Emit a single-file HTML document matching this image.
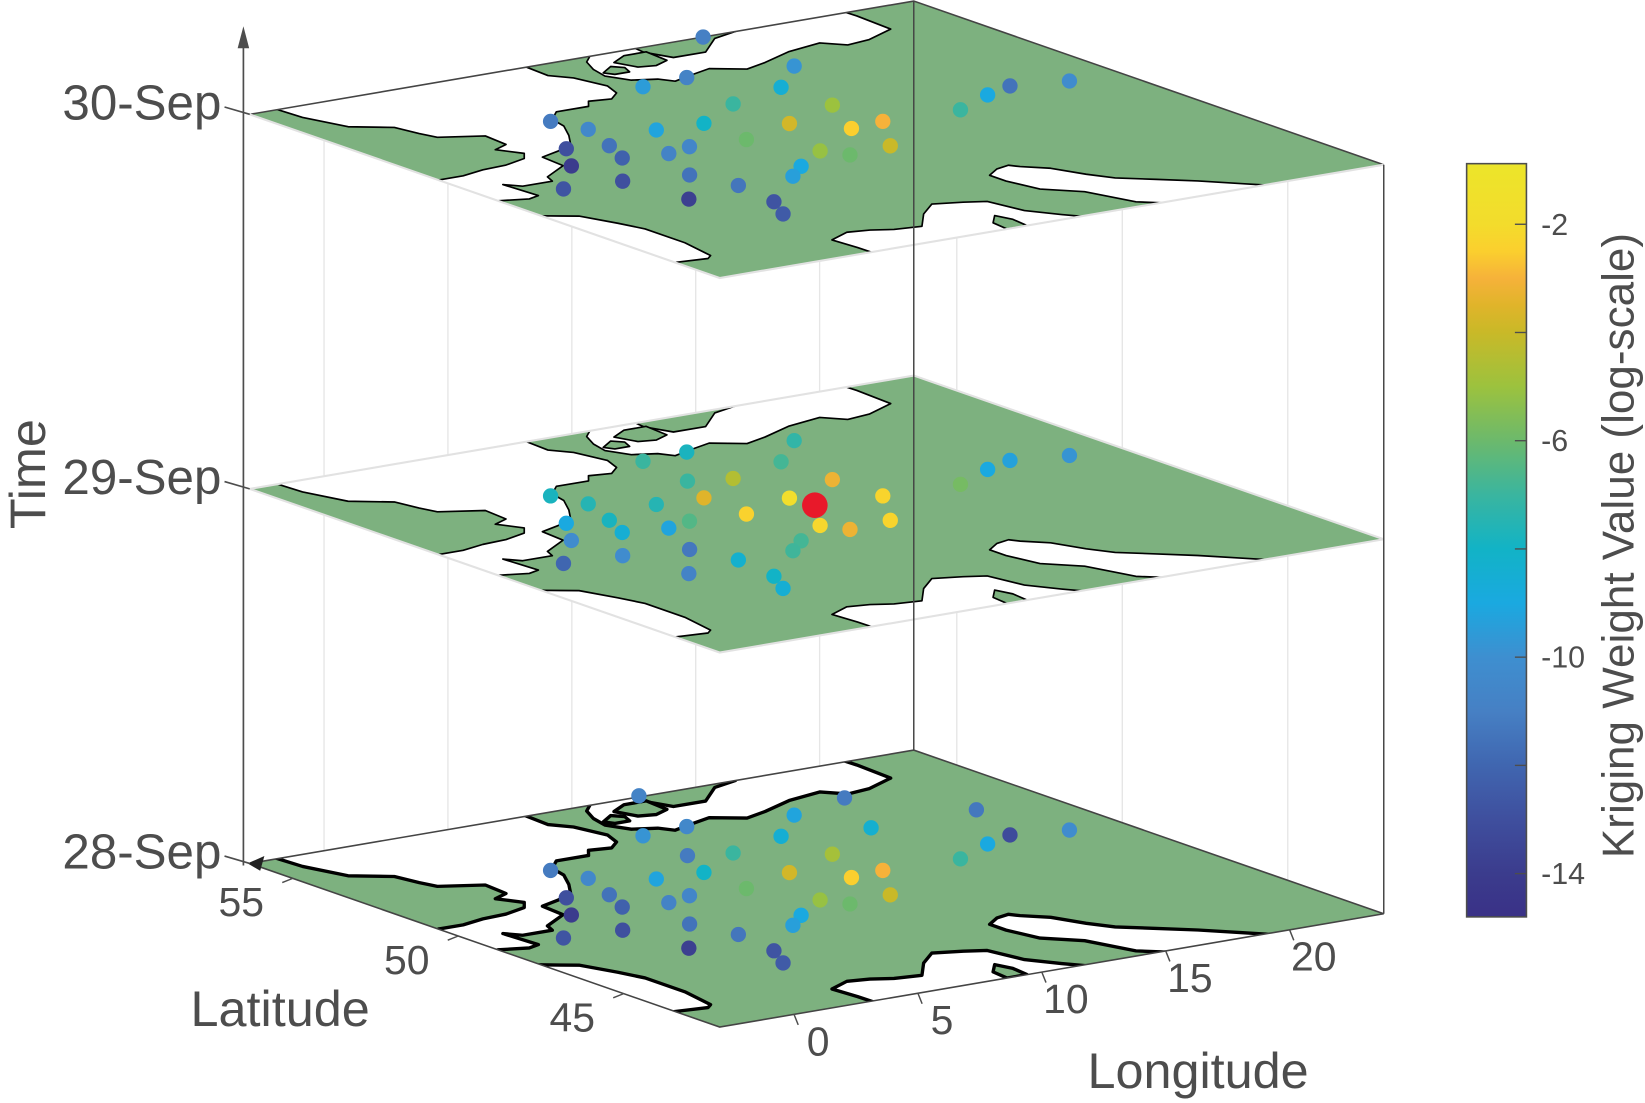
<!DOCTYPE html>
<html><head><meta charset="utf-8"><style>
html,body{margin:0;padding:0;background:#fff}
svg{display:block;font-family:"Liberation Sans",Arial,sans-serif}
</style></head><body>
<svg id="chart" width="1645" height="1103" viewBox="0 0 1568 1051.4" xmlns="http://www.w3.org/2000/svg">
<rect x="0" y="0" width="1568" height="1052" fill="#fff"/>
<defs>
<linearGradient id="cbgrad" x1="0" y1="1" x2="0" y2="0"></linearGradient>
</defs>
<g id="walls"></g>
<g id="planes"></g>
<g id="frame"></g>
<g id="labels"></g>
<g id="colorbar"></g>
</svg>
<script>
// ---- data ----
const lonRange = [-3, 23.8];
const latRange = [42.1, 56.3];
const days = [28, 29, 30];
const dayLabels = ['28-Sep', '29-Sep', '30-Sep'];
const lonTicks = [0, 5, 10, 15, 20];
const latTicks = [45, 50, 55];
const cbTicks = [-2, -4, -6, -8, -10, -12, -14];
const cbTickLabels = ['-2', '', '-6', '', '-10', '', '-14'];
const cbRange = [-14.8, -0.88];
const stationLon = [15.3,15.5,9.8,11.7,13.5,10.9,13.5,4.6,5.0,6.8,8.6,10.9,12.2,13.6,8.5,11.9,2.9,4.3,3.7,5.3,6.4,9.6,10.1,1.7,7.9,6.9,4.2,1.9,4.7,-0.3,2.3,4.4,3.7,16.6,18.5,19.8,21.8,12.8,18.2,16.6,20.85,9.46];
const stationLat = [56.3,53.7,54.0,54.1,52.6,52.1,51.05,52.9,52.06,51.35,51.26,50.4,49.5,49.6,49.9,48.1,51.15,50.9,50.06,49.85,50.05,48.5,47.97,50.1,47.8,47.3,48.4,48.7,47.3,48.84,47.0,46.0,45.2,49.5,50.1,50.4,50.1,56.37,54.2,52.2,52.2,52.4];
const values28 = [null,-9.2,-9.8,-10.5,-8.5,-7,-4.8,-11.2,-10.5,-9.2,-8,-3.8,-2.5,-3,-6,-4,-13,-11.5,-12.2,-10.8,-10.6,-5.1,-6,-14,-9,-9.4,-11.5,-13,-11.4,-12.8,-13.8,-12.8,-12.5,-7,-9,-13.2,-10.2,-10.8,-11.2,-8.4,-11.3,-11.2];
const values29 = [null,-7.2,-7,-7.8,-6.8,-4.5,-3.2,-7.8,-7.5,-7.5,-3.5,-1.8,null,-2.3,-2.4,-2.3,-9,-7.8,-8.5,-9.2,-6.5,-2.2,-3.2,-10.2,-6.8,-6.9,-11.3,-10.2,-8.3,-12,-10.8,-8,-8.5,-5.8,-9,-9.3,-9.8,null,null,null,null,-7];
const values30 = [-11,-9.8,-9.5,-10.8,-8.5,-7,-5,-11.2,-10.5,-9.2,-8,-3.8,-2.5,-3,-6,-4,-13,-11.5,-12.2,-10.8,-10.6,-5.1,-6,-14,-9,-9.4,-11.5,-13,-11.4,-12.8,-13.8,-12.8,-12.5,-7,-9,-11.5,-10.2,null,null,null,null,null];
const targetLon = [11.03];
const targetLat = [49.73];
const targetDay = [29];
// coastline (sea areas, lon/lat)
const seaNorth = [[-2,57.5],[-1.8,55.6],[-1.3,54.6],[-0.1,54.1],[0.1,53.5],[0.3,53.1],[1.7,52.7],[1.6,52.0],[0.9,51.8],[1.4,51.3],[1.0,51.0],[0.0,50.8],[-1.0,50.75],[-2.0,50.6],[-3.0,50.6],[-3.5,50.3],[-4.5,50.2],[-4.5,48.7],[-3,48.8],[-2,48.6],[-1.5,48.7],[-1.6,49.7],[-1.2,49.4],[0,49.4],[0.2,49.7],[1.5,50.2],[1.6,50.9],[2.5,51.1],[3.4,51.4],[4.0,51.9],[4.6,52.5],[4.8,53.0],[5.5,53.4],[6.8,53.4],[7.2,53.7],[8.0,53.6],[8.6,53.9],[8.9,54.4],[8.6,55.2],[8.1,55.6],[8.2,56.6],[8.5,57.5]];
const seaBiscay = [[-4.5,48.3],[-4.2,47.8],[-3,47.5],[-2.5,47.3],[-2.0,47.1],[-1.5,46.3],[-1.2,45.7],[-1.2,44.5],[-1.5,43.5],[-1.8,43.35],[-3,43.45],[-4.5,43.4]];
const seaBaltic = [[10.2,57.5],[10.5,56.5],[10.9,56.4],[10.2,56],[9.8,55.5],[9.6,55],[10,54.5],[10.8,54.3],[11.1,54],[12,54.2],[13,54.4],[14,54],[15,54.2],[16.5,54.6],[18,54.8],[18.6,54.4],[19.6,54.5],[21,54.9],[21.1,56],[21,57.5]];
const seaMed = [[3.2,40],[3.1,42.5],[3.0,43.2],[4,43.5],[4.8,43.4],[5.5,43.2],[6.5,43.1],[7.5,43.8],[8.5,44.3],[9.5,44.1],[10.2,43.9],[10.5,43.0],[11.2,42.4],[12,41.8],[12.5,40]];
const seaAdriatic = [[12.3,45.4],[12.3,44.9],[12.6,44.1],[13.6,43.5],[14.2,42.4],[15,42],[16,41.9],[16.5,40],[18,40],[19.5,41.8],[18.5,42.4],[17.5,43],[16.5,43.5],[15.5,44],[15,44.5],[14.5,45.2],[13.8,45.6],[13.6,45.8],[13,45.7]];
const landSweden = [[12.5,57.5],[12.6,56.4],[12.5,56],[12.9,55.4],[14.2,55.4],[15.5,56.1],[16.6,56.3],[16.6,57.5]];
const landZealand = [[10.9,55.7],[11.7,56],[12.6,56],[12.5,55.3],[11.8,55.1],[11.2,55.2]];
const landFunen = [[9.8,55.2],[10.5,55.5],[10.8,55.3],[10.6,55],[10,55]];
const landCorsica = [[8.6,42.1],[8.7,42.6],[9.3,43.0],[9.5,42.6],[9.4,42.1]];

// ---- axes ----
const NS = 'http://www.w3.org/2000/svg';
const B0 = [686, 979], EX = [633, -108], EY = [-448, -156], DZ = 357;
function proj(lon, lat, day) {
  const a = (lon - lonRange[0]) / (lonRange[1] - lonRange[0]);
  const b = (lat - latRange[0]) / (latRange[1] - latRange[0]);
  return [B0[0] + a * EX[0] + b * EY[0], B0[1] - (day - days[0]) * DZ + a * EX[1] + b * EY[1]];
}
function valToT(v) { return (v - cbRange[0]) / (cbRange[1] - cbRange[0]); }
const cmapV = [-14.8,-14,-13,-12,-11,-10,-9,-8,-7,-6,-5,-4,-3.5,-3,-2.5,-2,-0.88];
const cmapC = ['#3a3187','#3b3c8d','#3f4f9e','#4066b0','#4680c4','#3e8fd0','#1aa9e0','#12b3c6','#3ab59f','#6cb96c','#9cc23e','#c9b928','#e0b42a','#f6b23a','#fbcf2e','#f3dc2c','#ece52a'];
function hex(c){return [parseInt(c.slice(1,3),16),parseInt(c.slice(3,5),16),parseInt(c.slice(5,7),16)];}
function color(v) {
  if (v <= cmapV[0]) return cmapC[0];
  for (let i = 1; i < cmapV.length; i++) {
    if (v <= cmapV[i]) {
      const t = (v - cmapV[i-1]) / (cmapV[i] - cmapV[i-1]);
      const a = hex(cmapC[i-1]), b = hex(cmapC[i]);
      return 'rgb(' + a.map((x, k) => Math.round(x + (b[k] - x) * t)).join(',') + ')';
    }
  }
  return cmapC[cmapC.length - 1];
}
function mk(tag, attrs, parent) {
  const e = document.createElementNS(NS, tag);
  for (const k in attrs) e.setAttribute(k, attrs[k]);
  parent.appendChild(e);
  return e;
}
function pts(arr, day) { return arr.map(p => proj(p[0], p[1], day).map(v => v.toFixed(1)).join(',')).join(' '); }

const walls = document.getElementById('walls');
const planes = document.getElementById('planes');
const frame = document.getElementById('frame');
const labels = document.getElementById('labels');
const cb = document.getElementById('colorbar');
const dMin = days[0], dMax = days[days.length - 1];

// wall grid lines
lonTicks.forEach(lon => {
  const p1 = proj(lon, latRange[1], dMin), p2 = proj(lon, latRange[1], dMax);
  const l = mk('line', {x1: p1[0], y1: p1[1], x2: p2[0], y2: p2[1], stroke: '#e6e6e6', 'stroke-width': 1.3}, walls);
  
  
});
latTicks.forEach(lat => {
  const p1 = proj(lonRange[1], lat, dMin), p2 = proj(lonRange[1], lat, dMax);
  const l = mk('line', {x1: p1[0], y1: p1[1], x2: p2[0], y2: p2[1], stroke: '#e6e6e6', 'stroke-width': 1.3}, walls);
  
  
});

const seas = [seaNorth, seaBiscay, seaBaltic, seaMed, seaAdriatic];
const lands = [landSweden, landZealand, landFunen, landCorsica];
const valuesByDay = [values28, values29, values30];

days.forEach((day, di) => {
  const g = mk('g', {}, planes);
  
  
  const corners = [[lonRange[0], latRange[0]], [lonRange[1], latRange[0]], [lonRange[1], latRange[1]], [lonRange[0], latRange[1]]];
  const cp = mk('clipPath', {id: 'clip' + day}, g);
  mk('polygon', {points: pts(corners, day)}, cp);
  mk('polygon', {points: pts(corners, day), fill: '#7db17f'}, g);
  const cg = mk('g', {'clip-path': 'url(#clip' + day + ')'}, g);
  const sw = di === 0 ? 3.2 : 1.6;
  seas.forEach(s => {
    const p = mk('polygon', {points: pts(s, day), fill: '#fff', stroke: '#000', 'stroke-width': sw, 'stroke-linejoin': 'round'}, cg);
    
    
  });
  lands.forEach(s => {
    const p = mk('polygon', {points: pts(s, day), fill: '#7db17f', stroke: '#000', 'stroke-width': sw, 'stroke-linejoin': 'round'}, cg);
    
    
  });
  const L = proj(lonRange[0], latRange[1], day), T = proj(lonRange[1], latRange[1], day), R = proj(lonRange[1], latRange[0], day), Bc = proj(lonRange[0], latRange[0], day);
  const dark = '#444', light = '#e2e2e2';
  const backC = (di === 0 || di === days.length - 1) ? dark : light;
  const frontC = di === 0 ? dark : light;
  mk('polyline', {points: [L, T, R].map(p => p.join(',')).join(' '), fill: 'none', stroke: backC, 'stroke-width': backC === dark ? 1.5 : 2}, g);
  mk('polyline', {points: [L, Bc, R].map(p => p.join(',')).join(' '), fill: 'none', stroke: frontC, 'stroke-width': frontC === dark ? 1.5 : 2}, g);
});

// frame vertical lines
const TB = proj(lonRange[1], latRange[1], dMin), TT = proj(lonRange[1], latRange[1], dMax);
const back = mk('line', {x1: TB[0], y1: TB[1], x2: TT[0], y2: TT[1], stroke: '#444', 'stroke-width': 1.4}, frame);


const RB = proj(lonRange[1], latRange[0], dMin), RT = proj(lonRange[1], latRange[0], dMax);
const right = mk('line', {x1: RB[0], y1: RB[1], x2: RT[0], y2: RT[1], stroke: '#444', 'stroke-width': 1.4}, frame);



// dots
days.forEach((day, di) => {
  const vals = valuesByDay[di];
  stationLon.forEach((lon, i) => {
    if (vals[i] === null) return;
    const p = proj(lon, stationLat[i], day);
    const c = mk('circle', {cx: p[0].toFixed(1), cy: p[1].toFixed(1), r: 7.3, fill: color(vals[i])}, planes);
    
    
  });
});
targetLon.forEach((lon, i) => {
  const p = proj(lon, targetLat[i], targetDay[i]);
  const c = mk('circle', {cx: p[0].toFixed(1), cy: p[1].toFixed(1), r: 12.2, fill: '#e8192a'}, planes);
  
  
});

// time axis
const LB = proj(lonRange[0], latRange[1], dMin);
const ax = mk('line', {x1: 232, y1: LB[1] + 2, x2: 232, y2: 38, stroke: '#4d4d4d', 'stroke-width': 1.6}, labels);


const ah = mk('polygon', {points: '232,25 226.5,46 237.5,46', fill: '#4d4d4d'}, labels);


const ah2 = mk('polygon', {points: '236,823 252,816 248,830', fill: '#222'}, labels);


days.forEach((day, di) => {
  const p = proj(lonRange[0], latRange[1], day);
  mk('line', {x1: p[0] - 24, y1: p[1] - 7, x2: p[0], y2: p[1], stroke: '#4d4d4d', 'stroke-width': 1.6}, labels);
  const t = mk('text', {x: 211, y: p[1] + 5, 'text-anchor': 'end', 'font-size': 47, fill: '#4d4d4d'}, labels);
  t.textContent = dayLabels[di];
  
  
});
lonTicks.forEach(lon => {
  const p = proj(lon, latRange[0], dMin);
  mk('line', {x1: p[0], y1: p[1], x2: p[0] + 4, y2: p[1] + 10, stroke: '#4d4d4d', 'stroke-width': 1.4}, labels);
  const t = mk('text', {x: p[0] + 23, y: p[1] + 39, 'text-anchor': 'middle', 'font-size': 39, fill: '#4d4d4d'}, labels);
  t.textContent = String(lon);
  
  
});
latTicks.forEach(lat => {
  const p = proj(lonRange[0], lat, dMin);
  mk('line', {x1: p[0], y1: p[1], x2: p[0] - 10, y2: p[1] + 4, stroke: '#4d4d4d', 'stroke-width': 1.4}, labels);
  const t = mk('text', {x: p[0] - 49, y: p[1] + 36, 'text-anchor': 'middle', 'font-size': 39, fill: '#4d4d4d'}, labels);
  t.textContent = String(lat);
  
  
});
const tl = mk('text', {x: 267, y: 978, 'text-anchor': 'middle', 'font-size': 48, fill: '#4d4d4d'}, labels);
tl.textContent = 'Latitude';


const tg = mk('text', {x: 1142, y: 1037, 'text-anchor': 'middle', 'font-size': 48, fill: '#4d4d4d'}, labels);
tg.textContent = 'Longitude';


const tt = mk('text', {x: 0, y: 0, transform: 'translate(43,452) rotate(-90)', 'text-anchor': 'middle', 'font-size': 48, fill: '#4d4d4d'}, labels);
tt.textContent = 'Time';



// colorbar
const CBX = 1398, CBW = 57, CBY0 = 156, CBY1 = 874;
const grad = document.getElementById('cbgrad');
cmapV.forEach((v, i) => { mk('stop', {offset: valToT(v), 'stop-color': cmapC[i]}, grad); });
const cbr = mk('rect', {x: CBX, y: CBY0, width: CBW, height: CBY1 - CBY0, fill: 'url(#cbgrad)', stroke: '#4d4d4d', 'stroke-width': 1.5}, cb);


function cbY(v) { return CBY1 - valToT(v) * (CBY1 - CBY0); }
cbTicks.forEach((v, i) => {
  const y = cbY(v);
  mk('line', {x1: CBX + CBW - 11, y1: y, x2: CBX + CBW, y2: y, stroke: '#4d4d4d', 'stroke-width': 1.3}, cb);
  if (cbTickLabels[i]) {
    const t = mk('text', {x: CBX + CBW + 14, y: y + 10, 'font-size': 29, fill: '#4d4d4d'}, cb);
    t.textContent = cbTickLabels[i];
    
    
  }
});
const ct = mk('text', {x: 0, y: 0, transform: 'translate(1557,520) rotate(-90)', 'text-anchor': 'middle', 'font-size': 42, fill: '#4d4d4d'}, cb);
ct.textContent = 'Kriging Weight Value (log-scale)';


</script>
</body></html>
